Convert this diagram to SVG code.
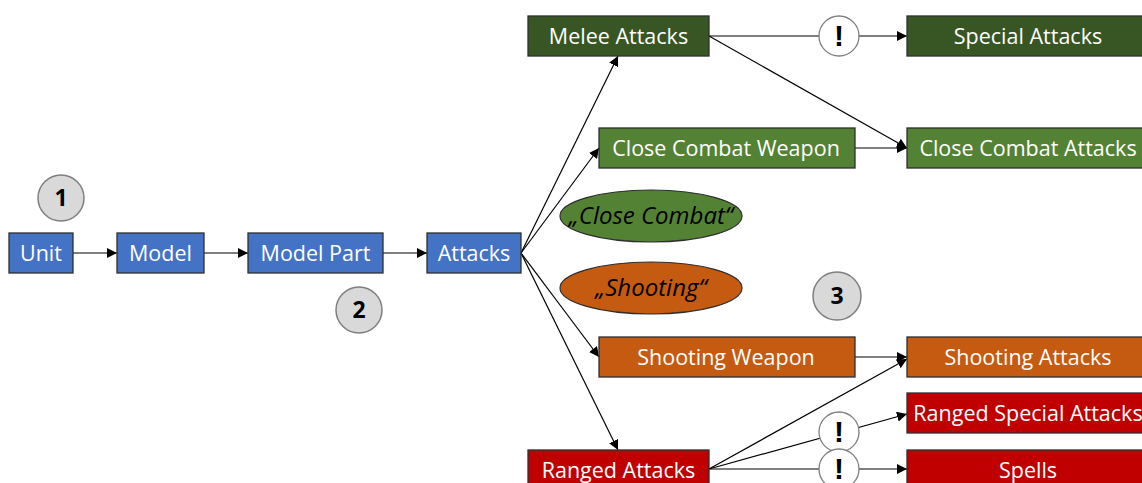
<svg xmlns="http://www.w3.org/2000/svg" width="1142" height="483" viewBox="0 0 1142 483">
<defs>
<marker id="arr" viewBox="0 0 10 10" refX="10" refY="5" markerWidth="10" markerHeight="10" markerUnits="userSpaceOnUse" orient="auto">
<path d="M0,0 L10,5 L0,10 z" fill="#000"/>
</marker>
<style>
.box{stroke:#2F2F2F;stroke-width:1.3}
.blue{fill:#4472C4}
.dg{fill:#375623}
.mg{fill:#548235}
.or{fill:#C55A11}
.rd{fill:#C00000}
.lbl{font-family:"Open Sans","Liberation Sans",sans-serif;font-size:21.5px;fill:#FFFFFF;text-anchor:middle}
.ell{stroke:#2F2F2F;stroke-width:1.2}
.elbl{font-family:"Open Sans","Liberation Sans",sans-serif;font-size:24px;font-style:italic;fill:#000;text-anchor:middle}
.num{fill:#D9D9D9;stroke:#7F7F7F;stroke-width:1.5}
.numt{font-family:"Open Sans","Liberation Sans",sans-serif;font-size:23px;font-weight:bold;fill:#000;text-anchor:middle}
.ex{fill:#FFFFFF;stroke:#7F7F7F;stroke-width:1.3}
.ext{font-family:"Liberation Sans",sans-serif;font-size:30px;font-weight:bold;fill:#000;text-anchor:middle}
.con{stroke:#000;stroke-width:1.2;fill:none}
</style>
</defs>
<rect width="1142" height="483" fill="#FFFFFF"/>
<g id="connectors">
<line class="con" x1="73" y1="253" x2="117" y2="253" marker-end="url(#arr)"/>
<line class="con" x1="204" y1="253" x2="248" y2="253" marker-end="url(#arr)"/>
<line class="con" x1="383" y1="253" x2="427" y2="253" marker-end="url(#arr)"/>
<line class="con" x1="521" y1="253" x2="618" y2="56" marker-end="url(#arr)"/>
<line class="con" x1="521" y1="253" x2="599" y2="148" marker-end="url(#arr)"/>
<line class="con" x1="521" y1="253" x2="599" y2="357" marker-end="url(#arr)"/>
<line class="con" x1="521" y1="253" x2="618" y2="450" marker-end="url(#arr)"/>
<line class="con" x1="709" y1="36" x2="907" y2="36" marker-end="url(#arr)"/>
<line class="con" x1="709" y1="36" x2="907" y2="148" marker-end="url(#arr)"/>
<line class="con" x1="855" y1="148" x2="907" y2="148" marker-end="url(#arr)"/>
<line class="con" x1="855" y1="357" x2="907" y2="357" marker-end="url(#arr)"/>
<line class="con" x1="709" y1="469" x2="907" y2="359" marker-end="url(#arr)"/>
<line class="con" x1="709" y1="469" x2="907" y2="414" marker-end="url(#arr)"/>
<line class="con" x1="709" y1="469" x2="907" y2="469" marker-end="url(#arr)"/>
</g>
<g id="n1"><circle class="num" cx="61" cy="198" r="23"/><text class="numt" x="61" y="206">1</text></g>
<g id="n2"><circle class="num" cx="359" cy="310" r="23"/><text class="numt" x="359" y="318">2</text></g>
<g id="n3"><circle class="num" cx="837" cy="296" r="24"/><text class="numt" x="837" y="304">3</text></g>
<g id="unit"><rect class="box blue" x="9" y="233" width="64" height="40"/><text class="lbl" x="41" y="261">Unit</text></g>
<g id="model"><rect class="box blue" x="117" y="233" width="87" height="40"/><text class="lbl" x="160.5" y="261">Model</text></g>
<g id="modelpart"><rect class="box blue" x="248" y="233" width="135" height="40"/><text class="lbl" x="315.5" y="261">Model Part</text></g>
<g id="attacks"><rect class="box blue" x="427" y="233" width="94" height="40"/><text class="lbl" x="474" y="261">Attacks</text></g>
<g id="melee"><rect class="box dg" x="528" y="16" width="181" height="40"/><text class="lbl" x="618.5" y="44">Melee Attacks</text></g>
<g id="special"><rect class="box dg" x="907" y="16" width="240" height="40"/><text class="lbl" x="1028" y="44">Special Attacks</text></g>
<g id="ccweapon"><rect class="box mg" x="599" y="128" width="256" height="40"/><text class="lbl" x="726" y="156">Close Combat Weapon</text></g>
<g id="ccattacks"><rect class="box mg" x="907" y="128" width="240" height="40"/><text class="lbl" x="1028" y="156">Close Combat Attacks</text></g>
<g id="ccellipse"><ellipse class="ell mg" cx="651" cy="216" rx="91" ry="26"/><text class="elbl" x="651" y="224">„Close Combat“</text></g>
<g id="shellipse"><ellipse class="ell or" cx="651" cy="288" rx="91" ry="26"/><text class="elbl" x="651" y="296">„Shooting“</text></g>
<g id="shweapon"><rect class="box or" x="599" y="337" width="256" height="40"/><text class="lbl" x="726" y="365">Shooting Weapon</text></g>
<g id="shattacks"><rect class="box or" x="907" y="337" width="240" height="40"/><text class="lbl" x="1028" y="365">Shooting Attacks</text></g>
<g id="ranged"><rect class="box rd" x="528" y="450" width="181" height="40"/><text class="lbl" x="618.5" y="478">Ranged Attacks</text></g>
<g id="rspecial"><rect class="box rd" x="907" y="393" width="240" height="40"/><text class="lbl" x="1028" y="421">Ranged Special Attacks</text></g>
<g id="spells"><rect class="box rd" x="907" y="450" width="240" height="40"/><text class="lbl" x="1028" y="478">Spells</text></g>
<g id="ex1"><circle class="ex" cx="839" cy="36" r="20"/><text class="ext" x="839" y="46">!</text></g>
<g id="ex2"><circle class="ex" cx="839" cy="432" r="20"/><text class="ext" x="839" y="442">!</text></g>
<g id="ex3"><circle class="ex" cx="839" cy="469" r="20"/><text class="ext" x="839" y="479">!</text></g>
</svg>
